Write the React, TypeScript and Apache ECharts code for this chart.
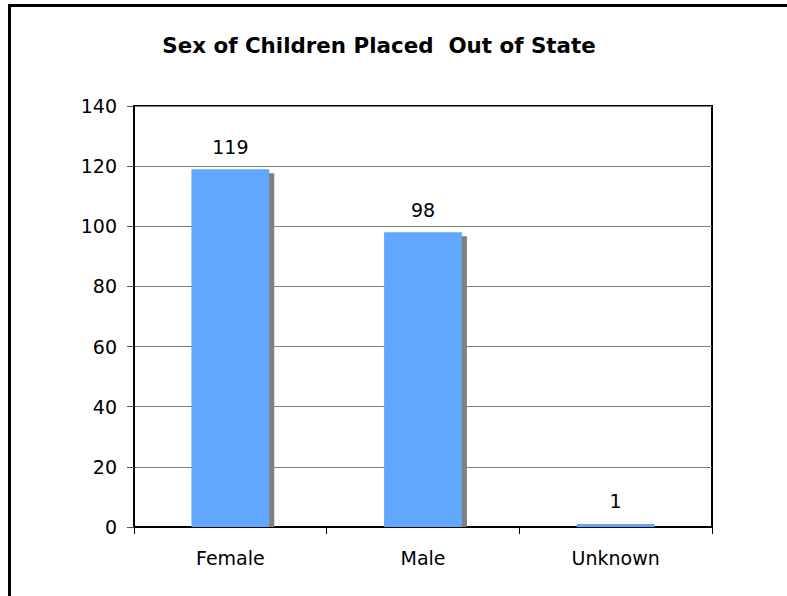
import React, { useEffect, useRef } from "react";
import * as echarts from "echarts";

const categories = ["Female", "Male", "Unknown"];
const counts = [119, 98, 1];
const yTicks = { min: 0, max: 140, interval: 20 };
const chartTitle = "Sex of Children Placed  Out of State";

const FONT = "'DejaVu Sans', Verdana, sans-serif";
const BAR_WIDTH_RATIO = 0.404;

export default function App() {
  const ref = useRef<HTMLDivElement>(null);

  useEffect(() => {
    if (!ref.current) return;
    const chart = echarts.init(ref.current, undefined, { renderer: "svg" });

    const option = {
      animation: false,
      backgroundColor: "#ffffff",
      textStyle: { fontFamily: FONT },
      graphic: [
        {
          type: "rect",
          shape: { x: 9.5, y: 5.5, width: 900, height: 700 },
          style: { fill: "none", stroke: "#000", lineWidth: 3 },
          silent: true,
        },
        {
          type: "text",
          x: 379,
          y: 45,
          style: {
            text: chartTitle,
            fontFamily: FONT,
            fontSize: 21.4,
            fontWeight: "bold",
            fill: "#000",
            textAlign: "center",
            textVerticalAlign: "middle",
          },
        },
      ],
      grid: {
        left: 134,
        right: 75,
        top: 106,
        bottom: 69,
        show: true,
        borderColor: "#000",
        borderWidth: 2,
        containLabel: false,
      },
      xAxis: {
        type: "category",
        data: categories,
        axisLine: { lineStyle: { color: "#000", width: 2 } },
        axisTick: {
          show: true,
          alignWithLabel: false,
          length: 7,
          lineStyle: { color: "#000", width: 1 },
        },
        axisLabel: {
          color: "#000",
          fontSize: 19,
          fontFamily: FONT,
          margin: 21,
        },
        splitLine: { show: false },
      },
      yAxis: {
        type: "value",
        min: yTicks.min,
        max: yTicks.max,
        interval: yTicks.interval,
        axisLine: { show: true, lineStyle: { color: "#000", width: 2 } },
        axisTick: {
          show: true,
          length: 7,
          lineStyle: { color: "#555", width: 1 },
        },
        axisLabel: {
          color: "#000",
          fontSize: 19,
          fontFamily: FONT,
          margin: 17,
        },
        splitLine: { show: true, lineStyle: { color: "#808080", width: 1 } },
      },
      series: [
        {
          // drop shadow behind each bar
          type: "custom",
          z: 1,
          silent: true,
          data: counts.map((v, i) => [i, v]),
          renderItem: (params: any, api: any) => {
            const idx = api.value(0);
            const v = api.value(1);
            const top = api.coord([idx, v]);
            const base = api.coord([idx, 0]);
            const w = api.size([1, 0])[0] * BAR_WIDTH_RATIO;
            const h = Math.max(0, base[1] - top[1] - 4);
            return {
              type: "rect",
              shape: { x: top[0] - w / 2 + 5, y: top[1] + 4, width: w, height: h },
              style: { fill: "#808080" },
            };
          },
        },
        {
          type: "bar",
          z: 2,
          data: counts,
          barWidth: `${BAR_WIDTH_RATIO * 100}%`,
          itemStyle: { color: "#60A8FF" },
          label: {
            show: true,
            position: "top",
            distance: 13,
            color: "#000",
            fontSize: 19,
            fontFamily: FONT,
          },
        },
      ],
    };

    chart.setOption(option as any);
    return () => chart.dispose();
  }, []);

  return (
    <div
      ref={ref}
      style={{ position: "fixed", left: 0, top: 0, width: 787, height: 596 }}
    />
  );
}
